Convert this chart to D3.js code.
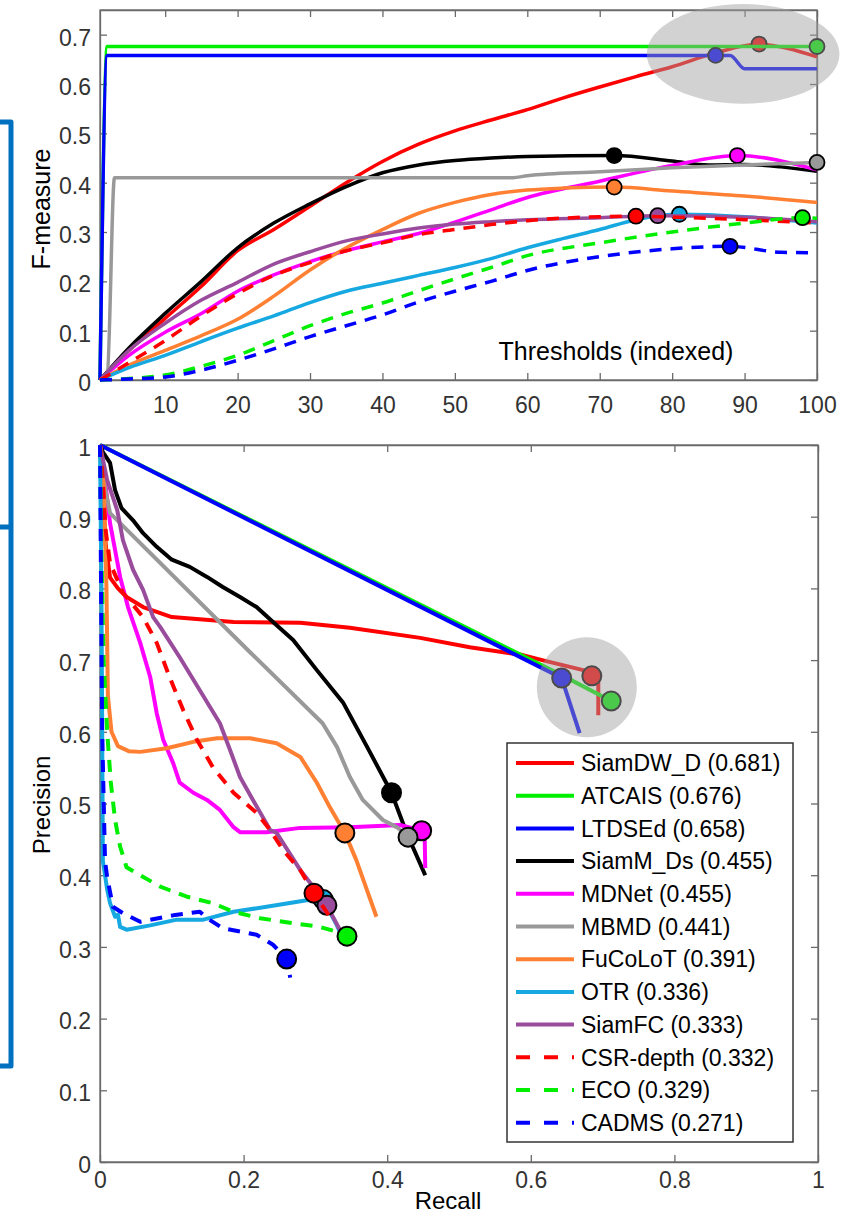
<!DOCTYPE html>
<html>
<head>
<meta charset="utf-8">
<script src="https://cdn.jsdelivr.net/npm/d3@7"></script>
<style>
body { margin: 0; background: #fff; }
svg { display: block; font-family: "Liberation Sans", Arial, sans-serif; }
.axis text { fill: #333; font-size: 23px; }
.axis path, .axis line { stroke: #6a6a6a; stroke-width: 1.3; }
</style>
</head>
<body>
<svg id="canvas" width="841" height="1213"></svg>
<script>
var width = 841;
var height = 1213;

// trackers, legend order
var trackers = ["SiamDW_D", "ATCAIS", "LTDSEd", "SiamM_Ds", "MDNet", "MBMD",
  "FuCoLoT", "OTR", "SiamFC", "CSR-depth", "ECO", "CADMS"];
var scores = [0.681, 0.676, 0.658, 0.455, 0.455, 0.441, 0.391, 0.336, 0.333, 0.332, 0.329, 0.271];
var colors = ["#ff0000", "#00ee00", "#0000ff", "#000000", "#ff00ff", "#999999",
  "#ff8033", "#16a8e0", "#9a4c9c", "#ff0000", "#00ee00", "#0000ff"];
var dashed = [false, false, false, false, false, false, false, false, false, true, true, true];

// F-measure vs threshold index  [threshold, F]
var fSiamDW_D = [[1,0],[5,0.06],[10,0.125],[15,0.19],[20,0.262],[25,0.305],[30,0.352],[35,0.40],[40,0.443],[45,0.478],[50,0.505],[55,0.527],[60,0.548],[65,0.572],[70,0.594],[75,0.615],[80,0.635],[86,0.663],[92,0.681],[96,0.672],[100,0.655]];
var fATCAIS = [[1,0],[2,0.676],[100,0.676]];
var fLTDSEd = [[1,0],[2,0.658],[88,0.658],[90,0.631],[100,0.631]];
var fSiamM_Ds = [[1,0],[5,0.065],[10,0.135],[15,0.2],[20,0.268],[25,0.318],[30,0.357],[35,0.392],[40,0.42],[45,0.436],[50,0.445],[55,0.45],[60,0.453],[72,0.455],[80,0.444],[85,0.436],[90,0.437],[95,0.432],[100,0.423]];
var fMDNet = [[1,0],[5,0.05],[10,0.097],[15,0.135],[20,0.18],[25,0.213],[30,0.24],[35,0.262],[40,0.28],[45,0.297],[50,0.32],[55,0.345],[60,0.37],[70,0.403],[80,0.435],[89,0.455],[100,0.426]];
var fMBMD = [[1,0],[2,0.01],[3,0.41],[58,0.41],[60,0.414],[70,0.422],[80,0.43],[90,0.436],[100,0.441]];
var fFuCoLoT = [[1,0],[5,0.03],[10,0.06],[15,0.09],[20,0.123],[25,0.17],[30,0.223],[35,0.268],[40,0.305],[45,0.338],[50,0.36],[55,0.376],[60,0.385],[65,0.389],[72,0.391],[80,0.383],[90,0.373],[100,0.36]];
var fOTR = [[1,0],[5,0.025],[10,0.05],[15,0.078],[20,0.105],[25,0.13],[30,0.157],[35,0.18],[40,0.196],[45,0.212],[50,0.228],[55,0.246],[60,0.268],[65,0.287],[70,0.305],[75,0.325],[81,0.336],[90,0.331],[100,0.318]];
var fSiamFC = [[1,0],[5,0.06],[10,0.115],[15,0.162],[20,0.198],[25,0.235],[30,0.26],[35,0.282],[40,0.296],[45,0.308],[50,0.316],[55,0.321],[60,0.325],[70,0.329],[78,0.333],[90,0.33],[100,0.321]];
var fCSR = [[1,0],[5,0.035],[10,0.08],[15,0.13],[20,0.175],[25,0.212],[30,0.238],[35,0.262],[40,0.278],[45,0.295],[50,0.305],[55,0.315],[60,0.323],[70,0.331],[75,0.332],[80,0.33],[90,0.325],[100,0.318]];
var fECO = [[1,0],[5,0.003],[10,0.01],[15,0.028],[20,0.05],[25,0.08],[30,0.11],[35,0.135],[40,0.156],[45,0.181],[50,0.205],[55,0.228],[60,0.252],[70,0.278],[80,0.30],[90,0.318],[98,0.329],[100,0.328]];
var fCADMS = [[1,0],[5,0.002],[10,0.006],[15,0.02],[20,0.04],[25,0.063],[30,0.088],[35,0.11],[40,0.132],[45,0.158],[50,0.18],[55,0.2],[60,0.222],[70,0.25],[80,0.266],[88,0.271],[95,0.259],[100,0.258]];
var fCurves = [fSiamDW_D, fATCAIS, fLTDSEd, fSiamM_Ds, fMDNet, fMBMD, fFuCoLoT, fOTR, fSiamFC, fCSR, fECO, fCADMS];
var fBest = [92, 100, 86, 72, 89, 100, 72, 81, 78, 75, 98, 88];

// precision vs recall  [recall, precision]
var prSiamDW_D = [[0,1],[0.004,0.93],[0.008,0.86],[0.014,0.815],[0.025,0.8],[0.037,0.788],[0.06,0.774],[0.1,0.76],[0.186,0.753],[0.279,0.752],[0.348,0.745],[0.446,0.731],[0.515,0.718],[0.589,0.707],[0.62,0.699],[0.673,0.686],[0.685,0.678],[0.694,0.676],[0.694,0.623]];
var prATCAIS = [[0,1],[0.645,0.678],[0.712,0.643]];
var prLTDSEd = [[0,1],[0.643,0.675],[0.668,0.598]];
var prSiamM_Ds = [[0,1],[0.004,0.99],[0.014,0.975],[0.021,0.937],[0.03,0.912],[0.046,0.895],[0.06,0.877],[0.079,0.858],[0.1,0.84],[0.125,0.83],[0.149,0.816],[0.171,0.802],[0.195,0.788],[0.218,0.774],[0.241,0.753],[0.269,0.728],[0.302,0.686],[0.339,0.64],[0.372,0.579],[0.406,0.515],[0.427,0.459],[0.453,0.40]];
var prMDNet = [[0,1],[0.007,0.95],[0.014,0.891],[0.028,0.816],[0.039,0.774],[0.056,0.724],[0.07,0.676],[0.079,0.626],[0.088,0.589],[0.102,0.556],[0.111,0.529],[0.13,0.515],[0.149,0.505],[0.167,0.491],[0.186,0.467],[0.195,0.46],[0.232,0.46],[0.279,0.466],[0.348,0.467],[0.418,0.47],[0.448,0.462],[0.452,0.465],[0.453,0.41]];
var prMBMD = [[0,1],[0.005,0.95],[0.014,0.905],[0.209,0.711],[0.31,0.612],[0.33,0.579],[0.348,0.537],[0.366,0.505],[0.394,0.477],[0.415,0.466],[0.429,0.453]];
var prFuCoLoT = [[0,1],[0.005,0.95],[0.009,0.8],[0.011,0.65],[0.016,0.6],[0.025,0.58],[0.04,0.573],[0.056,0.572],[0.093,0.577],[0.13,0.586],[0.163,0.591],[0.209,0.591],[0.246,0.584],[0.279,0.565],[0.302,0.529],[0.32,0.495],[0.341,0.459],[0.357,0.421],[0.385,0.342]];
var prOTR = [[0,1],[0.002,0.8],[0.004,0.42],[0.01,0.38],[0.014,0.361],[0.021,0.342],[0.025,0.345],[0.028,0.328],[0.037,0.324],[0.07,0.33],[0.107,0.338],[0.144,0.338],[0.186,0.349],[0.232,0.356],[0.288,0.365],[0.311,0.366],[0.33,0.33],[0.342,0.303]];
var prSiamFC = [[0,1],[0.006,0.97],[0.01,0.951],[0.024,0.909],[0.032,0.867],[0.046,0.826],[0.06,0.798],[0.074,0.76],[0.084,0.746],[0.111,0.704],[0.139,0.658],[0.167,0.612],[0.181,0.575],[0.195,0.537],[0.213,0.505],[0.237,0.463],[0.246,0.459],[0.279,0.407],[0.297,0.384],[0.316,0.358],[0.334,0.324]];
var prCSR = [[0,1],[0.004,0.95],[0.008,0.88],[0.014,0.835],[0.032,0.794],[0.06,0.76],[0.079,0.724],[0.097,0.676],[0.116,0.63],[0.135,0.589],[0.157,0.551],[0.186,0.515],[0.218,0.487],[0.237,0.463],[0.255,0.435],[0.279,0.407],[0.298,0.375],[0.32,0.342]];
var prECO = [[0,1],[0.002,0.85],[0.005,0.7],[0.01,0.6],[0.015,0.53],[0.021,0.477],[0.028,0.44],[0.037,0.411],[0.056,0.40],[0.084,0.384],[0.121,0.37],[0.157,0.361],[0.186,0.349],[0.223,0.34],[0.269,0.333],[0.306,0.328],[0.33,0.321],[0.344,0.315]];
var prCADMS = [[0,1],[0.003,0.6],[0.007,0.42],[0.01,0.397],[0.018,0.356],[0.032,0.347],[0.056,0.335],[0.102,0.344],[0.139,0.349],[0.149,0.34],[0.171,0.326],[0.218,0.317],[0.241,0.303],[0.26,0.283],[0.265,0.257]];
var prCurves = [prSiamDW_D, prATCAIS, prLTDSEd, prSiamM_Ds, prMDNet, prMBMD, prFuCoLoT, prOTR, prSiamFC, prCSR, prECO, prCADMS];
var prBest = [[0.685,0.678],[0.712,0.643],[0.643,0.675],[0.406,0.515],[0.448,0.462],[0.429,0.453],[0.341,0.459],[0.311,0.366],[0.316,0.358],[0.298,0.375],[0.344,0.315],[0.26,0.283]];

// ticks
var thrTicks = [10, 20, 30, 40, 50, 60, 70, 80, 90, 100];
var fTicks = [0, 0.1, 0.2, 0.3, 0.4, 0.5, 0.6, 0.7];
var recTicks = [0, 0.2, 0.4, 0.6, 0.8, 1];
var precTicks = [0, 0.1, 0.2, 0.3, 0.4, 0.5, 0.6, 0.7, 0.8, 0.9, 1];

// highlight ellipses [cx, cy, rx, ry] in data units
var topHighlight = [89.8, 0.661, 13.3, 0.101];
var prHighlight = [0.678, 0.662, 0.0696, 0.0697];

var svg = d3.select("#canvas");

// left blue bracket (cropped from neighbouring figure)
svg.append("path")
  .attr("d", "M0,122H11V1066H0M0,527H11")
  .attr("fill", "none")
  .attr("stroke", "#0070c0")
  .attr("stroke-width", 5)
  .attr("stroke-linejoin", "round");

// ---------- top: F-measure vs threshold ----------
var fBox = {left: 100, right: 817, top: 10, bottom: 380};

var xThr = d3.scaleLinear().domain([1, 100]).range([fBox.left, fBox.right]);
var yF = d3.scaleLinear().domain([0, 0.75]).range([fBox.bottom, fBox.top]);

var fmt = function(d) { return String(d); };

var g1 = svg.append("g");

g1.append("rect")
  .attr("x", fBox.left).attr("y", fBox.top)
  .attr("width", fBox.right - fBox.left).attr("height", fBox.bottom - fBox.top)
  .attr("fill", "none").attr("stroke", "#6a6a6a").attr("stroke-width", 1.3);

g1.append("g").attr("class", "axis")
  .attr("transform", "translate(0," + fBox.bottom + ")")
  .call(d3.axisBottom(xThr).tickValues(thrTicks).tickFormat(fmt).tickSize(-7).tickSizeOuter(0).tickPadding(17));
g1.append("g").attr("class", "axis")
  .attr("transform", "translate(0," + fBox.top + ")")
  .call(d3.axisTop(xThr).tickValues(thrTicks).tickFormat("").tickSize(-7).tickSizeOuter(0));
g1.append("g").attr("class", "axis")
  .attr("transform", "translate(" + fBox.left + ",0)")
  .call(d3.axisLeft(yF).tickValues(fTicks).tickFormat(fmt).tickSize(-7).tickSizeOuter(0).tickPadding(9))
  .selectAll("text").attr("dy", "0.45em");
g1.append("g").attr("class", "axis")
  .attr("transform", "translate(" + fBox.right + ",0)")
  .call(d3.axisRight(yF).tickValues(fTicks).tickFormat("").tickSize(-7).tickSizeOuter(0));

var fLine = d3.line()
  .x(function(d) { return xThr(d[0]); })
  .y(function(d) { return yF(d[1]); })
  .curve(d3.curveMonotoneX);

fCurves.forEach(function(c, i) {
  g1.append("path")
    .datum(c)
    .attr("d", fLine)
    .attr("fill", "none")
    .attr("stroke", colors[i])
    .attr("stroke-width", 3.5)
    .attr("stroke-dasharray", dashed[i] ? "12,9" : null);
  g1.append("circle")
    .attr("cx", xThr(fBest[i]))
    .attr("cy", yF(scores[i]))
    .attr("r", 7.5)
    .attr("fill", colors[i])
    .attr("stroke", "#000")
    .attr("stroke-width", 1.8);
});

g1.append("ellipse")
  .attr("cx", xThr(topHighlight[0]))
  .attr("cy", yF(topHighlight[1]))
  .attr("rx", xThr(topHighlight[0] + topHighlight[2]) - xThr(topHighlight[0]))
  .attr("ry", yF(0) - yF(topHighlight[3]))
  .attr("fill", "#a0a0a0")
  .attr("fill-opacity", 0.47);

g1.append("text")
  .attr("x", 616).attr("y", 360)
  .attr("text-anchor", "middle")
  .attr("font-size", 25)
  .attr("fill", "#000")
  .text("Thresholds (indexed)");

g1.append("text")
  .attr("transform", "translate(50,209) rotate(-90)")
  .attr("text-anchor", "middle")
  .attr("font-size", 25)
  .attr("fill", "#000")
  .text("F-measure");

// ---------- bottom: precision vs recall ----------
var prBox = {left: 100, right: 818, top: 445, bottom: 1162};

var xRec = d3.scaleLinear().domain([0, 1]).range([prBox.left, prBox.right]);
var yPrec = d3.scaleLinear().domain([0, 1]).range([prBox.bottom, prBox.top]);

var g2 = svg.append("g");

g2.append("rect")
  .attr("x", prBox.left).attr("y", prBox.top)
  .attr("width", prBox.right - prBox.left).attr("height", prBox.bottom - prBox.top)
  .attr("fill", "none").attr("stroke", "#6a6a6a").attr("stroke-width", 1.3);

g2.append("g").attr("class", "axis")
  .attr("transform", "translate(0," + prBox.bottom + ")")
  .call(d3.axisBottom(xRec).tickValues(recTicks).tickFormat(fmt).tickSize(-7).tickSizeOuter(0).tickPadding(10));
g2.append("g").attr("class", "axis")
  .attr("transform", "translate(0," + prBox.top + ")")
  .call(d3.axisTop(xRec).tickValues(recTicks).tickFormat("").tickSize(-7).tickSizeOuter(0));
g2.append("g").attr("class", "axis")
  .attr("transform", "translate(" + prBox.left + ",0)")
  .call(d3.axisLeft(yPrec).tickValues(precTicks).tickFormat(fmt).tickSize(-7).tickSizeOuter(0).tickPadding(9))
  .selectAll("text").attr("dy", "0.45em");
g2.append("g").attr("class", "axis")
  .attr("transform", "translate(" + prBox.right + ",0)")
  .call(d3.axisRight(yPrec).tickValues(precTicks).tickFormat("").tickSize(-7).tickSizeOuter(0));

var prLine = d3.line()
  .x(function(d) { return xRec(d[0]); })
  .y(function(d) { return yPrec(d[1]); });

prCurves.forEach(function(c, i) {
  g2.append("path")
    .datum(c)
    .attr("d", prLine)
    .attr("fill", "none")
    .attr("stroke", colors[i])
    .attr("stroke-width", 4)
    .attr("stroke-linejoin", "round")
    .attr("stroke-dasharray", dashed[i] ? "12,9" : null);
  g2.append("circle")
    .attr("cx", xRec(prBest[i][0]))
    .attr("cy", yPrec(prBest[i][1]))
    .attr("r", 9.5)
    .attr("fill", colors[i])
    .attr("stroke", "#000")
    .attr("stroke-width", 2);
});

g2.append("ellipse")
  .attr("cx", xRec(prHighlight[0]))
  .attr("cy", yPrec(prHighlight[1]))
  .attr("rx", xRec(prHighlight[2]) - xRec(0))
  .attr("ry", yPrec(0) - yPrec(prHighlight[3]))
  .attr("fill", "#a0a0a0")
  .attr("fill-opacity", 0.47);

g2.append("text")
  .attr("x", 448).attr("y", 1209)
  .attr("text-anchor", "middle")
  .attr("font-size", 24)
  .attr("fill", "#000")
  .text("Recall");

g2.append("text")
  .attr("transform", "translate(50,805) rotate(-90)")
  .attr("text-anchor", "middle")
  .attr("font-size", 24)
  .attr("fill", "#000")
  .text("Precision");

// legend
var legend = g2.append("g");
legend.append("rect")
  .attr("x", 507).attr("y", 743)
  .attr("width", 286).attr("height", 399)
  .attr("fill", "#fff")
  .attr("stroke", "#333")
  .attr("stroke-width", 1.5);

trackers.forEach(function(name, i) {
  var y = 763 + i * 32.7;
  legend.append("line")
    .attr("x1", 516).attr("x2", 574)
    .attr("y1", y).attr("y2", y)
    .attr("stroke", colors[i])
    .attr("stroke-width", 4)
    .attr("stroke-dasharray", dashed[i] ? "14,14" : null);
  legend.append("text")
    .attr("x", 581).attr("y", y)
    .attr("dy", "0.36em")
    .attr("font-size", 23)
    .attr("fill", "#000")
    .text(name + " (" + scores[i].toFixed(3) + ")");
});
</script>
</body>
</html>
